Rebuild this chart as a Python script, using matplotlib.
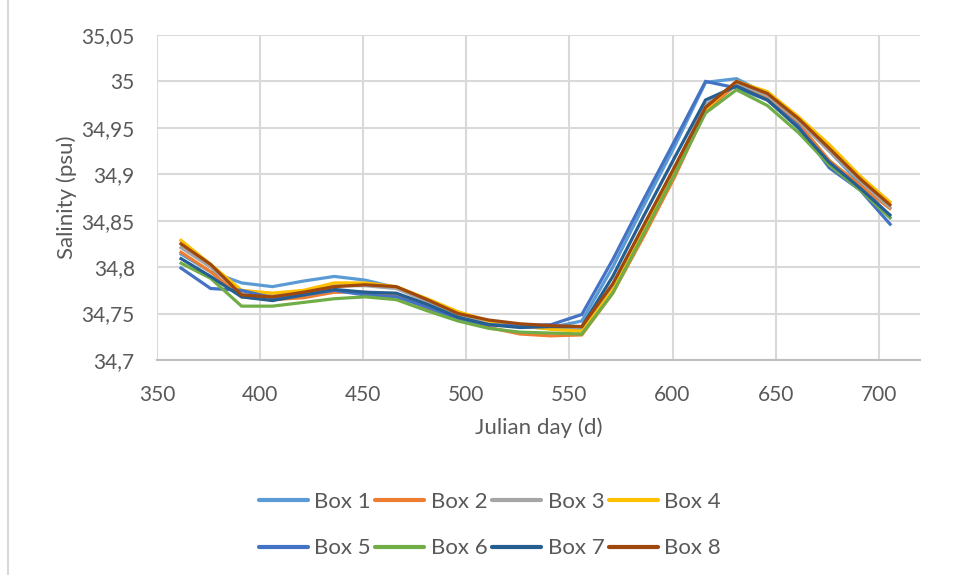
import numpy as np
import matplotlib.pyplot as plt
from matplotlib.lines import Line2D
from matplotlib.ticker import FuncFormatter

plt.rcParams['font.family'] = ['Lato', 'DejaVu Sans']
plt.rcParams['font.size'] = 15

# ---- data: salinity per box over julian day ----
days = [361, 376, 391, 406, 421, 436, 451, 466, 481, 496, 511, 526,
        541, 556, 571, 586, 601, 616, 631, 646, 661, 676, 691, 706]

box1 = [34.815, 34.795, 34.783, 34.779, 34.785, 34.790, 34.786, 34.778, 34.764, 34.750, 34.740, 34.736,
        34.735, 34.742, 34.800, 34.866, 34.930, 34.999, 35.003, 34.986, 34.958, 34.925, 34.890, 34.852]
box2 = [34.817, 34.795, 34.768, 34.765, 34.767, 34.773, 34.773, 34.770, 34.756, 34.743, 34.735, 34.728,
        34.726, 34.727, 34.772, 34.833, 34.897, 34.968, 34.997, 34.983, 34.955, 34.915, 34.888, 34.862]
box3 = [34.822, 34.800, 34.772, 34.770, 34.773, 34.780, 34.780, 34.777, 34.763, 34.748, 34.740, 34.736,
        34.734, 34.733, 34.780, 34.843, 34.907, 34.975, 34.998, 34.985, 34.958, 34.925, 34.893, 34.863]
box4 = [34.830, 34.803, 34.775, 34.772, 34.775, 34.783, 34.783, 34.779, 34.766, 34.752, 34.742, 34.737,
        34.733, 34.731, 34.775, 34.838, 34.903, 34.970, 35.000, 34.989, 34.962, 34.932, 34.898, 34.869]
box5 = [34.800, 34.777, 34.775, 34.767, 34.770, 34.775, 34.770, 34.768, 34.757, 34.744, 34.738, 34.737,
        34.738, 34.749, 34.808, 34.873, 34.936, 35.000, 34.993, 34.980, 34.952, 34.907, 34.883, 34.845]
box6 = [34.805, 34.788, 34.758, 34.758, 34.762, 34.766, 34.768, 34.765, 34.753, 34.742, 34.734, 34.730,
        34.729, 34.728, 34.772, 34.836, 34.900, 34.966, 34.991, 34.974, 34.945, 34.910, 34.883, 34.852]
box7 = [34.810, 34.790, 34.768, 34.764, 34.770, 34.776, 34.773, 34.772, 34.760, 34.746, 34.738, 34.735,
        34.736, 34.736, 34.790, 34.855, 34.918, 34.980, 34.995, 34.980, 34.950, 34.913, 34.885, 34.855]
box8 = [34.826, 34.803, 34.770, 34.768, 34.773, 34.779, 34.781, 34.779, 34.765, 34.750, 34.743, 34.739,
        34.737, 34.736, 34.782, 34.845, 34.908, 34.972, 35.000, 34.987, 34.960, 34.928, 34.895, 34.866]

labels = ['Box 1', 'Box 2', 'Box 3', 'Box 4', 'Box 5', 'Box 6', 'Box 7', 'Box 8']
colors = ['#5B9BD5', '#ED7D31', '#A5A5A5', '#FFC000',
          '#4472C4', '#70AD47', '#255E91', '#9E480E']
series = [box1, box2, box3, box4, box5, box6, box7, box8]

xticks = [350, 400, 450, 500, 550, 600, 650, 700]
yticks = [34.7, 34.75, 34.8, 34.85, 34.9, 34.95, 35.0, 35.05]

text_col = '#595959'
grid_col = '#D9D9D9'

fig = plt.figure(figsize=(9.55, 5.75), dpi=100)
ax = fig.add_axes([157 / 955, 1 - 360 / 575, (920 - 157) / 955, (360 - 35) / 575])

lines = []
for vals, lab, col in zip(series, labels, colors):
    ln, = ax.plot(days, vals, color=col, linewidth=2.3, label=lab,
                  solid_joinstyle='miter', solid_capstyle='butt')
    lines.append(ln)

ax.set_xlim(350, 720)
ax.set_ylim(34.7, 35.05)
ax.set_xticks(xticks)
ax.set_yticks(yticks)
ax.yaxis.set_major_formatter(FuncFormatter(lambda v, p: f'{v:g}'.replace('.', ',')))

ax.grid(True, color=grid_col, linewidth=1.5)
ax.set_axisbelow(True)
for side in ['top', 'right', 'left']:
    ax.spines[side].set_visible(False)
ax.spines['bottom'].set_color('#BFBFBF')
ax.spines['bottom'].set_linewidth(1.5)
ax.tick_params(length=0, colors=text_col, labelsize=15)
ax.tick_params(axis='x', pad=18)
ax.tick_params(axis='y', pad=16)

ax.set_xlabel('Julian day (d)', color=text_col, fontsize=16, labelpad=9)
ax.set_ylabel('Salinity (psu)', color=text_col, fontsize=16, labelpad=3)

# legend fills column by column, so interleave to get two rows of four
order = [0, 4, 1, 5, 2, 6, 3, 7]
leg = fig.legend([lines[i] for i in order], [labels[i] for i in order],
                 loc='center', bbox_to_anchor=(490 / 955, 1 - 525 / 575), ncol=4,
                 frameon=False, fontsize=16, handlelength=2.2, handletextpad=0.3,
                 columnspacing=0.2, labelspacing=1.2)
for t in leg.get_texts():
    t.set_color(text_col)
for h in leg.get_lines():
    h.set_linewidth(3)
    h.set_solid_capstyle('round')

# thin frame line on the left edge
fig.add_artist(Line2D([8 / 955, 8 / 955], [0, 1], color=grid_col, linewidth=1.5,
                      transform=fig.transFigure))

fig.savefig('out.png', dpi=100)
